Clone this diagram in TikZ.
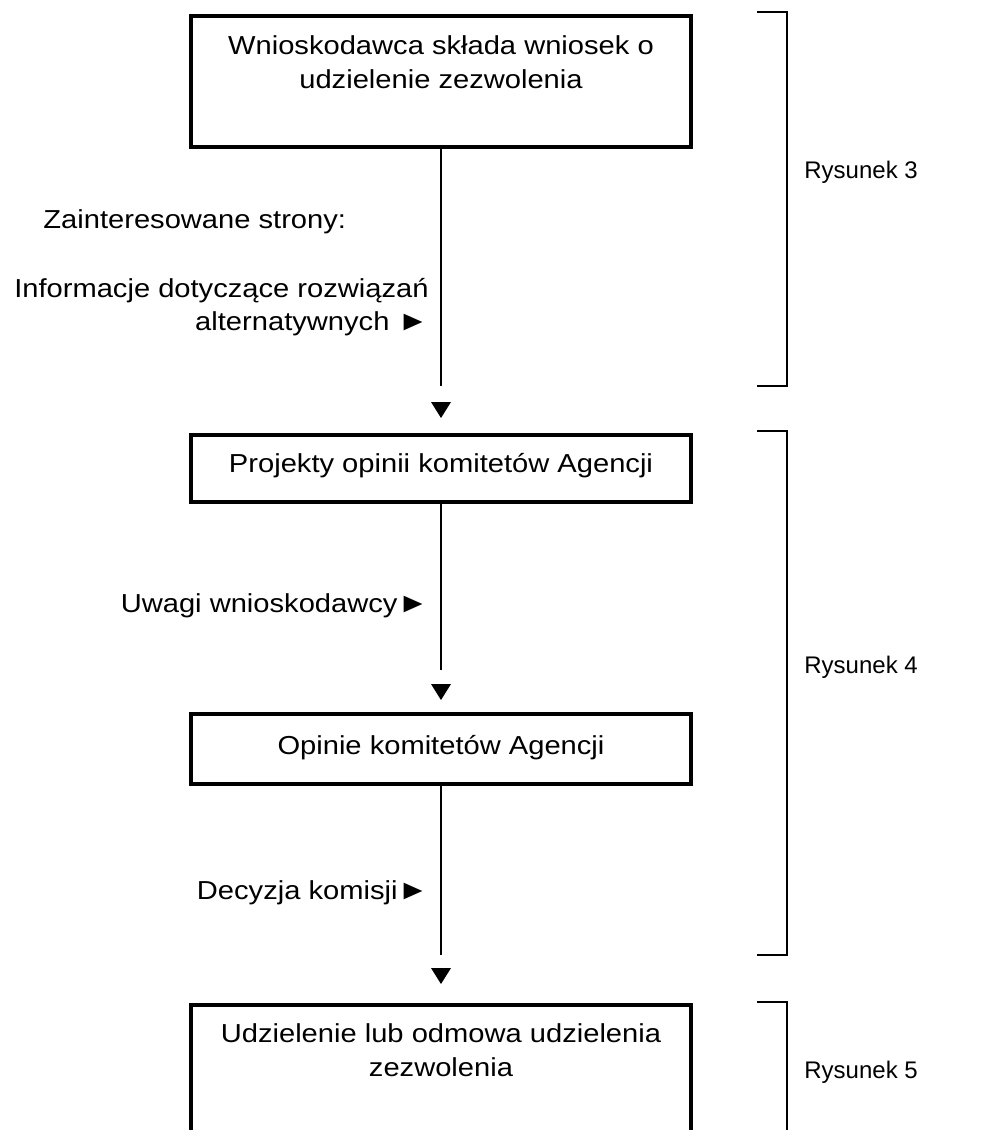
\documentclass[tikz,border=0pt]{standalone}
\usepackage{fontspec}
\setmainfont{Liberation Sans}
\newfontfamily\widefont[FakeStretch=1.12]{Liberation Sans}
\newcommand{\pointer}{{\fontsize{14pt}{16pt}\selectfont ►}}
\begin{document}
\begin{tikzpicture}[x=0.5pt,y=-0.5pt,
  box/.style={draw, line width=2pt, minimum width=250pt, anchor=north, inner sep=0pt},
  boxtext/.style={font=\widefont\fontsize{13pt}{17pt}\selectfont, align=center, anchor=base, inner sep=0pt},
  side/.style={font=\widefont\fontsize{13pt}{16.5pt}\selectfont, align=right, anchor=base east, inner sep=0pt},
  flow/.style={line width=0.75pt},
  tri/.style={fill=black},
  bracket/.style={line width=0.6pt},
  fig/.style={font=\fontsize{12pt}{14pt}\selectfont, anchor=base west, inner sep=0pt}]
\useasboundingbox (0,0) rectangle (1000,1130);
\clip (0,0) rectangle (1000,1130);

% process boxes
\node[box, minimum height=65.5pt] (b1) at (441,14) {};
\node[box, minimum height=33.5pt] (b2) at (441,433) {};
\node[box, minimum height=35pt]   (b3) at (441,712) {};
\node[box, minimum height=70pt]   (b4) at (441,1003) {};

% box captions (base anchor = baseline of the last line)
\node[boxtext] (t1) at (441,88) {Wnioskodawca składa wniosek o\\udzielenie zezwolenia};
\node[boxtext] (t2) at (441,472) {Projekty opinii komitetów Agencji};
\node[boxtext] (t3) at (441,754) {Opinie komitetów Agencji};
\node[boxtext] (t4) at (441,1076) {Udzielenie lub odmowa udzielenia\\zezwolenia};

% connectors ending above a detached arrowhead
\coordinate (e1) at (441,386);
\coordinate (e2) at (441,670);
\coordinate (e3) at (441,955);
\draw[flow] (b1) -- (e1);
\draw[flow] (b2) -- (e2);
\draw[flow] (b3) -- (e3);

\coordinate (a1) at (441,410);
\coordinate (a2) at (441,692);
\coordinate (a3) at (441,976);
\foreach \a in {a1,a2,a3}
  \fill[tri] ([shift={(-10,-8)}]\a) -- ([shift={(10,-8)}]\a) -- ([shift={(0,8)}]\a) -- cycle;

% inputs along the flow
\node[side, anchor=base west] (s0) at (43,228) {Zainteresowane strony:};
\node[side] (s1) at (429,330) {Informacje dotyczące rozwiązań\\alternatywnych \pointer};
\node[side] (s2) at (429,612) {Uwagi wnioskodawcy\pointer};
\node[side] (s3) at (429,899) {Decyzja komisji\pointer};

% figure brackets
\draw[bracket] (757,12) -- (787,12) -- (787,386) -- (757,386);
\draw[bracket] (757,431) -- (787,431) -- (787,955) -- (757,955);
\draw[bracket] (757,1002) -- (787,1002) -- (787,1140);

\node[fig] (r3) at (804,178) {Rysunek 3};
\node[fig] (r4) at (804,673) {Rysunek 4};
\node[fig] (r5) at (804,1078) {Rysunek 5};
\end{tikzpicture}
\end{document}
